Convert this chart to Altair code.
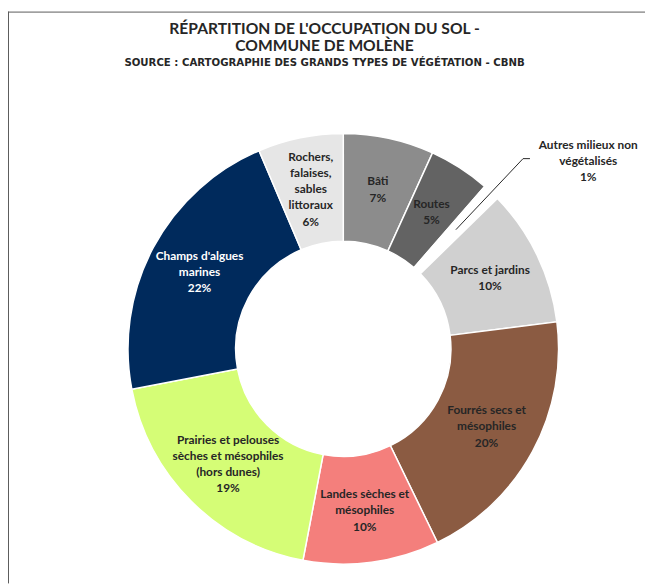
import altair as alt
import pandas as pd

# ---- data ----
categories = [
    "Bâti",
    "Routes",
    "Autres milieux non végétalisés",
    "Parcs et jardins",
    "Fourrés secs et mésophiles",
    "Landes sèches et mésophiles",
    "Prairies et pelouses sèches et mésophiles (hors dunes)",
    "Champs d'algues marines",
    "Rochers, falaises, sables littoraux",
]
shares = [6.8, 4.6, 1.3, 10.3, 19.8, 10.2, 19.0, 21.6, 6.4]
label_lines = [
    ["Bâti"],
    ["Routes"],
    ["Autres milieux non", "végétalisés"],
    ["Parcs et jardins"],
    ["Fourrés secs et", "mésophiles"],
    ["Landes sèches et", "mésophiles"],
    ["Prairies et pelouses", "sèches et mésophiles", "(hors dunes)"],
    ["Champs d'algues", "marines"],
    ["Rochers,", "falaises,", "sables", "littoraux"],
]
outside_label = [False, False, True, False, False, False, False, False, False]
slice_colors = ["#8c8c8c", "#636363", "#ffffff", "#d0d0d0", "#8b5b42",
                "#f47f7c", "#d5fd76", "#002a5c", "#e6e6e6"]
text_colors = ["#262626", "#262626", "#262626", "#262626", "#262626",
               "#262626", "#262626", "#ffffff", "#262626"]

title_lines = ["RÉPARTITION DE L'OCCUPATION DU SOL -", "COMMUNE DE MOLÈNE"]
subtitle = "SOURCE : CARTOGRAPHIE DES GRANDS TYPES DE VÉGÉTATION - CBNB"

# ---- layout ----
W, H = 645, 579
CX, CY = 339.5, 341.5
R_IN, R_OUT = 109, 218
R_LABEL = 165
R_LEAD0, R_LEAD1 = 166, 265
LH = 16.5
FS = 12
FONT = "Lato"

labels = ["\n".join(lines + [f"{round(v)}%"]) for lines, v in zip(label_lines, shares)]
df = pd.DataFrame({
    "idx": list(range(len(categories))),
    "cat": categories,
    "value": shares,
    "label": labels,
    "nl": [len(lines) + 1 for lines in label_lines],
    "outside": outside_label,
    "tc": text_colors,
})

base = alt.Chart(df).encode(
    theta=alt.Theta("value:Q", stack=True),
    order=alt.Order("idx:Q"),
    detail="cat:N",
)

arcs = base.mark_arc(
    innerRadius=R_IN, outerRadius=R_OUT, stroke="white", strokeWidth=1.5, x=CX, y=CY
).encode(
    color=alt.Color("cat:N", scale=alt.Scale(domain=categories, range=slice_colors), legend=None)
)

# polar positions computed from the data (cumulative shares)
polar = alt.Chart(df).transform_window(
    cum="sum(value)", sort=[alt.SortField("idx")]
).transform_joinaggregate(
    total="sum(value)"
).transform_calculate(
    ang="2*PI*(datum.cum - datum.value/2)/datum.total"
).transform_calculate(
    tx=f"{CX} + {R_LABEL}*sin(datum.ang)",
    ty=f"{CY} - {R_LABEL}*cos(datum.ang) - (datum.nl - 1)/2*{LH}",
    x1=f"{CX} + {R_LEAD0}*sin(datum.ang)",
    y1=f"{CY} - {R_LEAD0}*cos(datum.ang)",
    x2=f"{CX} + {R_LEAD1}*sin(datum.ang)",
    y2=f"{CY} - {R_LEAD1}*cos(datum.ang)",
).transform_calculate(
    x3="datum.x2 + 7",
    ox="datum.x2 + 66",
    oy=f"datum.y2 + 2.5 - (datum.nl - 1)/2*16",
)

inner_text = polar.transform_filter("!datum.outside").mark_text(
    font=FONT, fontSize=FS, fontWeight="bold",
    lineBreak="\n", lineHeight=LH, align="center", baseline="middle",
).encode(
    x=alt.X("tx:Q", scale=None), y=alt.Y("ty:Q", scale=None),
    text="label:N", color=alt.Color("tc:N", scale=None),
)

outside = polar.transform_filter("datum.outside")

outer_text = outside.mark_text(
    font=FONT, fontSize=FS, fontWeight="bold",
    lineBreak="\n", lineHeight=16, align="center", baseline="middle", color="#262626",
).encode(x=alt.X("ox:Q", scale=None), y=alt.Y("oy:Q", scale=None), text="label:N")

leader = outside.mark_rule(color="#262626", strokeWidth=1).encode(
    x=alt.X("x1:Q", scale=None), y=alt.Y("y1:Q", scale=None), x2="x2:Q", y2="y2:Q"
)
leader_tick = outside.mark_rule(color="#262626", strokeWidth=1).encode(
    x=alt.X("x2:Q", scale=None), y=alt.Y("y2:Q", scale=None), x2="x3:Q"
)

frame_df = pd.DataFrame({"k": [0]})
frame_top = alt.Chart(frame_df).mark_rule(color="#595959", strokeWidth=1).encode(
    x=alt.value(0), x2=alt.value(W), y=alt.value(0.5)
)
frame_left = alt.Chart(frame_df).mark_rule(color="#595959", strokeWidth=1).encode(
    x=alt.value(0.5), y=alt.value(0), y2=alt.value(H)
)

chart = alt.layer(
    frame_top, frame_left, arcs, inner_text, leader, leader_tick, outer_text
).properties(
    width=W, height=H,
    autosize=alt.AutoSizeParams(type="none"),
    padding=0,
    background="white",
    title=alt.TitleParams(
        text=title_lines, subtitle=subtitle, anchor="middle", frame="group",
        offset=-59, dx=-2,
        font=FONT, fontSize=15.8, fontWeight="bold", color="#262626", lineHeight=18,
        subtitleFont="DejaVu Sans", subtitleFontSize=10.3, subtitleFontWeight="bold",
        subtitleColor="#262626", subtitlePadding=3,
    ),
).configure_view(stroke=None)

chart.save("out.html", embed_options={"renderer": "svg", "actions": False})
